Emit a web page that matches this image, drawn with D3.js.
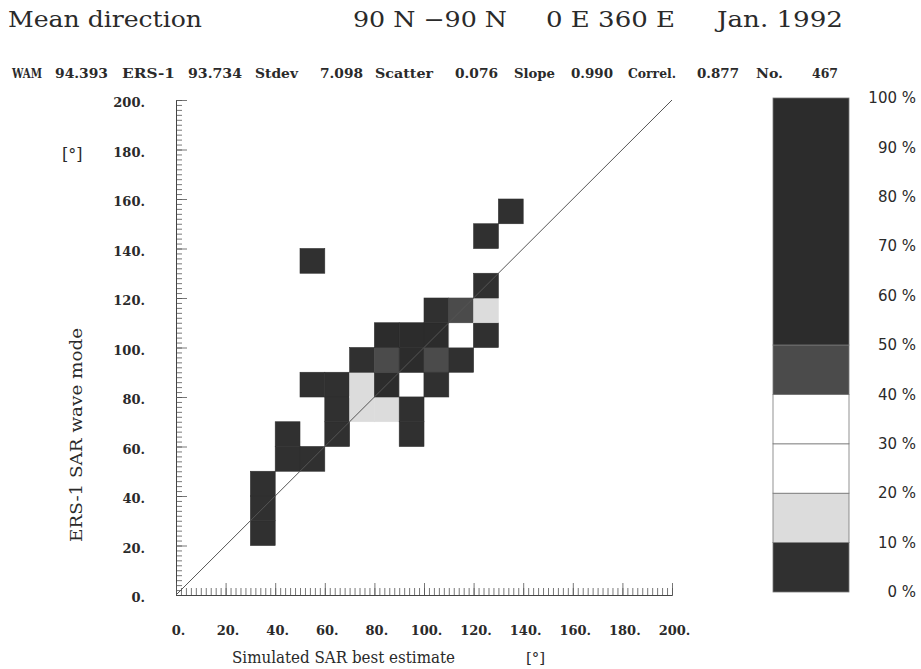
<!DOCTYPE html>
<html>
<head>
<meta charset="utf-8">
<script src="https://cdn.jsdelivr.net/npm/d3@7"></script>
<style>
  body { margin: 0; background: #fff; }
  text { fill: #2a2a2a; }
</style>
</head>
<body>
<div id="chart"></div>
<script>
// header texts
var title = ["Mean direction", "90 N \u221290 N", "0 E 360 E", "Jan. 1992"];
var statLabels = ["WAM", "94.393", "ERS-1", "93.734", "Stdev", "7.098", "Scatter", "0.076",
  "Slope", "0.990", "Correl.", "0.877", "No.", "467"];

// histogram cells: lower-left corner of each 10x10 deg bin, and percentage class value
var cellX = [30, 30, 30, 40, 40, 50, 50, 60, 60, 60, 70, 70, 80, 80, 90, 90, 90,
  70, 80, 90, 100, 110, 100, 80, 90, 100, 110, 120, 100, 110, 120, 120, 50, 120, 130];
var cellY = [20, 30, 40, 50, 60, 50, 80, 80, 60, 70, 80, 70, 70, 80, 80, 70, 60,
  90, 90, 90, 90, 90, 80, 100, 100, 100, 100, 100, 110, 110, 110, 120, 130, 140, 150];
var cellPct = [5, 5, 5, 5, 5, 5, 5, 5, 5, 5, 15, 15, 15, 60, 35, 5, 5,
  5, 45, 100, 45, 5, 5, 70, 80, 60, 25, 5, 5, 45, 15, 5, 5, 5, 5];

// colour classes of the legend bar
var classBreaks = [10, 20, 30, 40, 50];
var classColors = ["#303030", "#dcdcdc", "#ffffff", "#ffffff", "#4b4b4b", "#2c2c2c"];
var legendTicks = [0, 10, 20, 30, 40, 50, 60, 70, 80, 90, 100];

var axisTicks = [0, 20, 40, 60, 80, 100, 120, 140, 160, 180, 200];

var svg = d3.select("#chart").append("svg")
    .attr("width", 921)
    .attr("height", 669);

var x = d3.scaleLinear().domain([0, 200]).range([176, 672]);
var y = d3.scaleLinear().domain([0, 200]).range([595, 100]);
var color = d3.scaleThreshold().domain(classBreaks).range(classColors);

// header
var titleX = [8, 353, 546, 717];
var titleW = [194, 154, 129, 126];
svg.selectAll(".title")
    .data(title)
  .enter().append("text")
    .attr("class", "title")
    .attr("x", function(d, i) { return titleX[i]; })
    .attr("y", 27)
    .attr("textLength", function(d, i) { return titleW[i]; })
    .attr("lengthAdjust", "spacingAndGlyphs")
    .style("font-family", "DejaVu Serif")
    .style("font-size", "22px")
    .text(function(d) { return d; });

var statX = [12, 55, 122, 188, 255, 320, 375, 455, 514, 571, 628, 697, 756, 812];
var statW = [30, 53, 53, 54, 43, 43, 58, 43, 41, 42, 48, 42, 27, 26];
svg.selectAll(".stat")
    .data(statLabels)
  .enter().append("text")
    .attr("class", "stat")
    .attr("x", function(d, i) { return statX[i]; })
    .attr("y", 78)
    .attr("textLength", function(d, i) { return statW[i]; })
    .attr("lengthAdjust", "spacingAndGlyphs")
    .style("font-family", "DejaVu Serif")
    .style("font-weight", "bold")
    .style("font-size", "13px")
    .text(function(d) { return d; });

// cells
var cells = cellX.map(function(d, i) {
  return {x0: d, y0: cellY[i], pct: cellPct[i]};
});

svg.selectAll(".cell")
    .data(cells)
  .enter().append("rect")
    .attr("class", "cell")
    .attr("x", function(d) { return x(d.x0); })
    .attr("y", function(d) { return y(d.y0 + 10); })
    .attr("width", function(d) { return x(d.x0 + 10) - x(d.x0); })
    .attr("height", function(d) { return y(d.y0) - y(d.y0 + 10); })
    .attr("fill", function(d) { return color(d.pct); })
    .attr("stroke", function(d) { return color(d.pct) == "#ffffff" ? "#999" : color(d.pct); })
    .attr("stroke-width", 0.6);

// diagonal
svg.append("line")
    .attr("x1", x(0)).attr("y1", y(0))
    .attr("x2", x(200)).attr("y2", y(200))
    .attr("stroke", "#555")
    .attr("stroke-width", 1);

// axes: inward ticks, minor every 2 deg, major every 20
var minor = d3.range(0, 201, 2);

function styleAxis(g) {
  g.select(".domain").attr("stroke", "#444");
  g.selectAll(".tick line").attr("stroke", "#555").attr("stroke-width", 0.8);
}

svg.append("g")
    .attr("transform", "translate(" + x(0) + ",0)")
    .call(d3.axisRight(y).tickValues(minor).tickSize(6).tickSizeOuter(0).tickFormat(""))
    .call(styleAxis);
svg.append("g")
    .attr("transform", "translate(" + x(0) + ",0)")
    .call(d3.axisRight(y).tickValues(axisTicks).tickSize(11).tickSizeOuter(0).tickFormat(""))
    .call(styleAxis);

svg.append("g")
    .attr("transform", "translate(0," + y(0) + ")")
    .call(d3.axisTop(x).tickValues(minor).tickSize(7).tickSizeOuter(0).tickFormat(""))
    .call(styleAxis);
svg.append("g")
    .attr("transform", "translate(0," + y(0) + ")")
    .call(d3.axisTop(x).tickValues(axisTicks).tickSize(12).tickSizeOuter(0).tickFormat(""))
    .call(styleAxis);

// tick labels
var yLab = svg.append("g")
    .attr("transform", "translate(" + x(0) + ",0)")
    .call(d3.axisLeft(y).tickValues(axisTicks).tickSize(0).tickPadding(31)
      .tickFormat(function(d) { return d + "."; }));
yLab.select(".domain").remove();
yLab.selectAll("text")
    .attr("dy", "0.5em")
    .style("font-family", "DejaVu Serif")
    .style("font-weight", "bold")
    .style("font-size", "13px")
    .style("fill", "#2a2a2a");

var xLab = svg.append("g")
    .attr("transform", "translate(0," + y(0) + ")")
    .call(d3.axisBottom(x).tickValues(axisTicks).tickSize(0).tickPadding(31)
      .tickFormat(function(d) { return d + "."; }));
xLab.select(".domain").remove();
xLab.selectAll("text")
    .attr("dx", "0.15em")
    .style("font-family", "DejaVu Serif")
    .style("font-weight", "bold")
    .style("font-size", "13px")
    .style("fill", "#2a2a2a");

// axis titles
svg.append("text")
    .attr("transform", "translate(82," + 435 + ") rotate(-90)")
    .attr("text-anchor", "middle")
    .attr("textLength", 214)
    .attr("lengthAdjust", "spacingAndGlyphs")
    .style("font-family", "DejaVu Serif")
    .style("font-size", "17px")
    .text("ERS-1 SAR wave mode");
svg.append("text")
    .attr("x", 62).attr("y", 160)
    .style("font-family", "DejaVu Serif")
    .style("font-size", "16px")
    .text("[\u00b0]");

svg.append("text")
    .attr("x", 232).attr("y", 663)
    .attr("textLength", 223)
    .attr("lengthAdjust", "spacingAndGlyphs")
    .style("font-family", "DejaVu Serif")
    .style("font-size", "16px")
    .text("Simulated SAR best estimate");
svg.append("text")
    .attr("x", 526).attr("y", 663)
    .style("font-family", "DejaVu Serif")
    .style("font-size", "15px")
    .text("[\u00b0]");

// legend bar
var lg = d3.scaleLinear().domain([0, 100]).range([592, 98]);
var bands = [0].concat(classBreaks).map(function(d, i, a) {
  return {lo: d, hi: i < a.length - 1 ? a[i + 1] : 100, c: classColors[i]};
});

svg.selectAll(".band")
    .data(bands)
  .enter().append("rect")
    .attr("class", "band")
    .attr("x", 773)
    .attr("width", 76)
    .attr("y", function(d) { return lg(d.hi); })
    .attr("height", function(d) { return lg(d.lo) - lg(d.hi); })
    .attr("fill", function(d) { return d.c; })
    .attr("stroke", "#777")
    .attr("stroke-width", 0.8);

svg.selectAll(".lglab")
    .data(legendTicks)
  .enter().append("text")
    .attr("class", "lglab")
    .attr("x", 916)
    .attr("y", function(d) { return lg(d); })
    .attr("dy", "0.35em")
    .attr("text-anchor", "end")
    .style("font-family", "DejaVu Sans")
    .style("font-size", "15px")
    .text(function(d) { return d + " %"; });
</script>
</body>
</html>
